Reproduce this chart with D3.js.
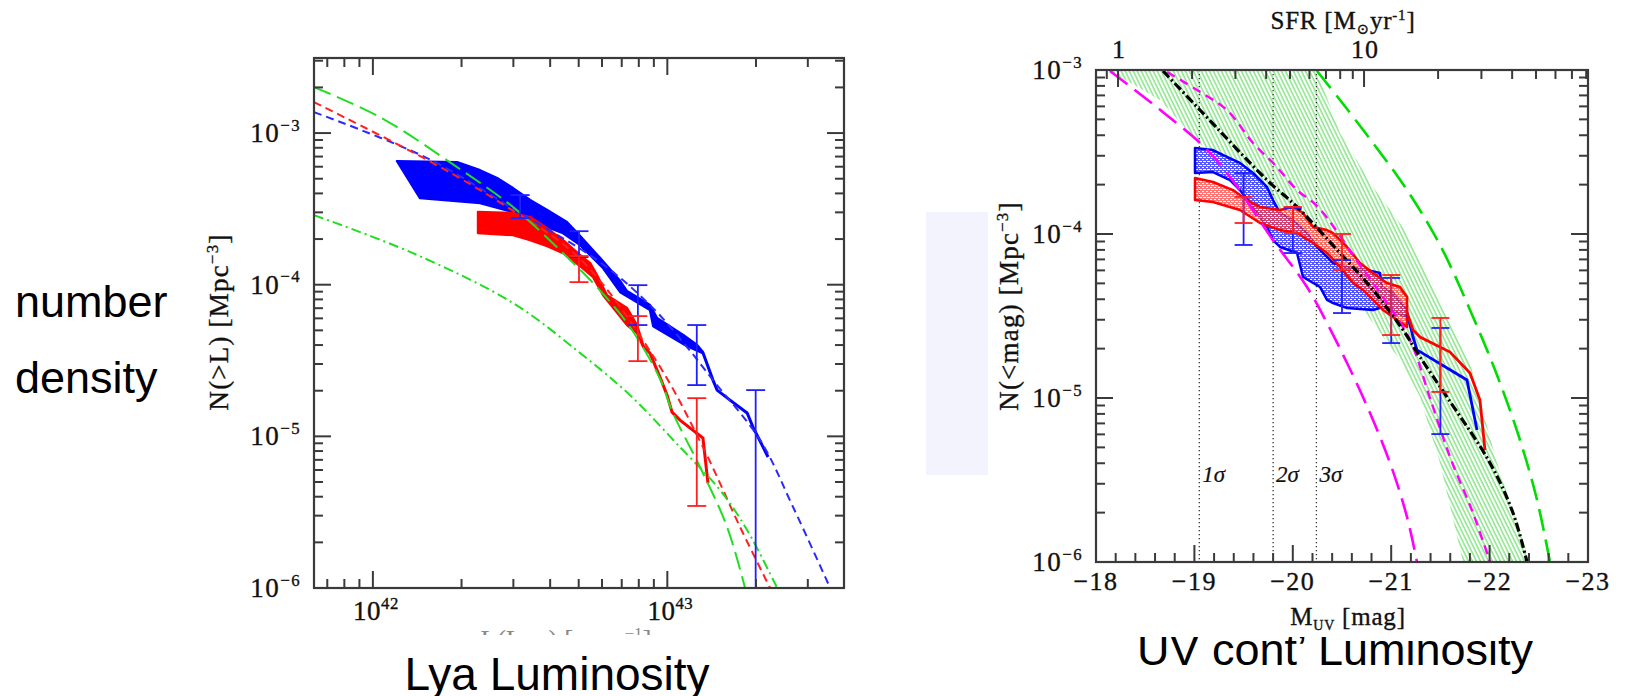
<!DOCTYPE html>
<html>
<head>
<meta charset="utf-8">
<script src="https://cdn.jsdelivr.net/npm/d3@7"></script>
<style>
  body { margin: 0; background: #fff; }
  svg { display: block; }
</style>
</head>
<body>
<div id="chart"></div>
<script>
// ---------- Left panel: cumulative Lya LF, points are [log10 L, log10 N(>L)] ----------
const lyaBlueUpper = [[42.082,-3.185],[42.286,-3.192],[42.364,-3.245],[42.422,-3.297],[42.476,-3.363],[42.534,-3.442],[42.592,-3.508],[42.659,-3.587],[42.704,-3.680],[42.772,-3.825],[42.840,-3.976],[42.863,-4.042],[42.941,-4.134],[42.965,-4.220],[43.054,-4.332],[43.101,-4.398],[43.121,-4.444]];
const lyaBlueLower = [[42.160,-3.429],[42.364,-3.462],[42.476,-3.521],[42.534,-3.574],[42.592,-3.620],[42.646,-3.660],[42.704,-3.739],[42.782,-3.891],[42.840,-4.049],[42.873,-4.088],[42.941,-4.167],[42.952,-4.273],[43.067,-4.405],[43.121,-4.451]];
const lyaBlueTail = [[43.121,-4.448],[43.155,-4.629],[43.169,-4.695],[43.213,-4.761],[43.271,-4.846],[43.291,-4.939],[43.342,-5.136]];
const lyaRedUpper = [[42.357,-3.521],[42.476,-3.528],[42.534,-3.554],[42.585,-3.620],[42.646,-3.706],[42.704,-3.805],[42.738,-3.858],[42.761,-3.937],[42.795,-4.069],[42.863,-4.154],[42.897,-4.266],[42.918,-4.398]];
const lyaRedLower = [[42.357,-3.660],[42.476,-3.673],[42.534,-3.706],[42.592,-3.746],[42.646,-3.792],[42.704,-3.877],[42.748,-3.950],[42.782,-4.069],[42.863,-4.266],[42.897,-4.319],[42.918,-4.411]];
const lyaRedTail = [[42.918,-4.405],[42.941,-4.451],[42.975,-4.609],[42.999,-4.728],[43.016,-4.840],[43.043,-4.893],[43.121,-5.011],[43.138,-5.308]];
const lyaBlueFit = [[41.8,-2.862],[42.184,-3.165],[42.5,-3.528],[42.771,-3.851],[42.941,-4.134],[43.067,-4.411],[43.155,-4.629],[43.315,-5.024],[43.427,-5.466],[43.553,-6.0]];
const lyaRedFit = [[41.8,-2.796],[42.204,-3.198],[42.456,-3.488],[42.704,-3.83],[42.965,-4.51],[43.121,-5.071],[43.247,-5.598],[43.349,-6.0]];
const lyaModelDash = [[41.8,-2.697],[42.024,-2.895],[42.286,-3.225],[42.476,-3.488],[42.646,-3.792],[42.761,-4.016],[42.873,-4.279],[42.975,-4.62],[43.019,-4.846],[43.111,-5.202],[43.203,-5.598],[43.264,-6.0]];
const lyaModelDashDot = [[41.8,-3.541],[42.136,-3.792],[42.476,-4.121],[42.704,-4.451],[42.873,-4.728],[43.043,-5.071],[43.179,-5.354],[43.271,-5.618],[43.373,-6.0]];
// error bars: log L, top and bottom of bar (log N)
const lyaBlueErrL = [42.5, 42.7, 42.9, 43.1, 43.3];
const lyaBlueErrHi = [-3.409, -3.647, -4.003, -4.266, -4.695];
const lyaBlueErrLo = [-3.561, -3.818, -4.266, -4.662, -6.5];
const lyaRedErrL = [42.7, 42.9, 43.1];
const lyaRedErrHi = [-3.811, -4.207, -4.748];
const lyaRedErrLo = [-3.983, -4.504, -5.459];

// ---------- Right panel: cumulative UV LF, points are [M_UV, log10 N(<mag)] ----------
const uvBlueUpper = [[-19.006,-3.476],[-19.189,-3.488],[-19.331,-3.530],[-19.463,-3.567],[-19.596,-3.628],[-19.738,-3.713],[-19.799,-3.793],[-19.870,-3.872],[-20.002,-3.915],[-20.144,-3.994],[-20.246,-4.079],[-20.348,-4.140],[-20.409,-4.177],[-20.551,-4.201],[-20.754,-4.220],[-20.886,-4.238],[-20.907,-4.323],[-21.018,-4.360],[-21.161,-4.463]];
const uvBlueLower = [[-19.006,-3.628],[-19.189,-3.622],[-19.362,-3.671],[-19.463,-3.732],[-19.596,-3.835],[-19.738,-3.957],[-19.799,-4.037],[-19.870,-4.079],[-20.043,-4.116],[-20.104,-4.262],[-20.276,-4.323],[-20.348,-4.402],[-20.409,-4.421],[-20.551,-4.451],[-20.815,-4.463],[-20.917,-4.445],[-21.059,-4.482],[-21.161,-4.506]];
const uvBlueTail = [[-21.161,-4.482],[-21.222,-4.628],[-21.262,-4.707],[-21.770,-4.890],[-21.872,-5.195]];
const uvRedUpper = [[-19.006,-3.659],[-19.189,-3.683],[-19.392,-3.732],[-19.535,-3.793],[-19.667,-3.835],[-19.870,-3.854],[-20.002,-3.835],[-20.104,-3.872],[-20.205,-3.957],[-20.348,-3.976],[-20.409,-3.994],[-20.551,-4.079],[-20.683,-4.177],[-20.815,-4.238],[-20.957,-4.299],[-21.089,-4.323],[-21.161,-4.384]];
const uvRedLower = [[-19.006,-3.793],[-19.189,-3.805],[-19.463,-3.854],[-19.667,-3.933],[-19.870,-3.976],[-20.043,-3.994],[-20.205,-4.055],[-20.348,-4.116],[-20.480,-4.201],[-20.612,-4.299],[-20.713,-4.341],[-20.815,-4.402],[-20.917,-4.463],[-21.018,-4.506],[-21.161,-4.567]];
const uvRedTail = [[-21.161,-4.480],[-21.222,-4.585],[-21.293,-4.628],[-21.598,-4.720],[-21.801,-4.848],[-21.902,-5.012],[-21.953,-5.317]];
const uvModelBandLeft = [[-18.142,-3.006],[-18.650,-3.183],[-19.047,-3.445],[-19.463,-3.640],[-19.870,-3.884],[-20.276,-4.171],[-20.683,-4.433],[-21.089,-4.768],[-21.293,-4.994],[-21.496,-5.396],[-21.730,-6.0]];
const uvModelBandRight = [[-20.246,-3.006],[-20.480,-3.384],[-20.815,-3.713],[-21.161,-3.994],[-21.496,-4.402],[-21.801,-4.787],[-22.075,-5.396],[-22.411,-6.0]];
const uvMagentaLong = [[-18.142,-3.006],[-19.057,-3.445],[-19.331,-3.628],[-19.799,-4.037],[-20.144,-4.323],[-20.348,-4.543],[-20.713,-4.994],[-20.988,-5.396],[-21.161,-5.726],[-21.262,-6.0]];
const uvMagentaShort = [[-18.722,-3.012],[-19.026,-3.122],[-19.331,-3.244],[-19.596,-3.445],[-19.819,-3.579],[-20.043,-3.732],[-20.256,-3.835],[-20.683,-4.189],[-20.937,-4.402],[-21.191,-4.646],[-21.394,-5.0],[-21.598,-5.360],[-21.831,-5.701],[-22.004,-6.0]];
const uvGreenLong = [[-20.246,-3.006],[-20.480,-3.183],[-20.815,-3.445],[-21.161,-3.732],[-21.496,-4.067],[-21.801,-4.463],[-22.075,-4.860],[-22.309,-5.256],[-22.482,-5.622],[-22.614,-6.0]];
const uvBlackDashDot = [[-18.681,-3.006],[-19.057,-3.244],[-19.738,-3.671],[-20.043,-3.835],[-20.480,-4.116],[-20.815,-4.341],[-21.120,-4.585],[-21.293,-4.750],[-21.567,-4.994],[-22.004,-5.396],[-22.238,-5.701],[-22.380,-6.0]];
const uvErrM = [-19.5, -20, -20.5, -21, -21.5];
const uvBlueErrHi = [-3.628, -3.841, -4.159, -4.268, -4.573];
const uvBlueErrLo = [-4.067, -4.116, -4.482, -4.665, -5.220];
const uvRedErrHi = [-3.774, -3.835, -4.0, -4.250, -4.512];
const uvRedErrLo = [-3.933, -3.994, -4.220, -4.616, -4.963];
const sigmaMags = [-19.05, -19.80, -20.24];
const sigmaLabels = ["1σ", "2σ", "3σ"];
const magTicks = [-18, -19, -20, -21, -22, -23];
const sfrZeroMag = -18.224; // M_UV where SFR = 1 Msun/yr, 2.5 mag per decade
const sfrLabels = [1, 10];

const serif = '"Liberation Serif", "DejaVu Serif", serif';
const sans = '"Liberation Sans", Arial, sans-serif';
const ink = "#111";

const svg = d3.select("#chart").append("svg")
  .attr("width", 1634).attr("height", 696);

// scales
const xL = d3.scaleLog().domain([10 ** 41.8, 10 ** 43.6]).range([314, 844]);
const yL = d3.scaleLog().domain([1e-6, 10 ** -2.505]).range([588, 58]);
const xR = d3.scaleLinear().domain([-18, -23]).range([1096, 1588]);
const yR = d3.scaleLog().domain([1e-6, 1e-3]).range([562, 70]);
const sfrAt = m => 10 ** ((sfrZeroMag - m) / 2.5);
const sR = d3.scaleLog().domain([sfrAt(-18), sfrAt(-23)]).range([1096, 1588]);

const pL = d => [xL(10 ** d[0]), yL(10 ** d[1])];
const pR = d => [xR(d[0]), yR(10 ** d[1])];

// patterns
const defs = svg.append("defs");
const hatch = defs.append("pattern").attr("id", "greenHatch")
  .attr("patternUnits", "userSpaceOnUse").attr("width", 3.6).attr("height", 10)
  .attr("patternTransform", "rotate(-26)");
hatch.append("line").attr("x1", 1).attr("y1", 0).attr("x2", 1).attr("y2", 10)
  .attr("stroke", "#5edc5e").attr("stroke-width", 1.1);

function dotPattern(id, color) {
  const p = defs.append("pattern").attr("id", id)
    .attr("patternUnits", "userSpaceOnUse").attr("width", 4).attr("height", 4);
  p.append("rect").attr("width", 4).attr("height", 4).attr("fill", color);
  p.append("rect").attr("x", 0).attr("y", 1).attr("width", 2).attr("height", 1).attr("fill", "#fff");
  p.append("rect").attr("x", 2).attr("y", 3).attr("width", 2).attr("height", 1).attr("fill", "#fff");
  p.append("rect").attr("x", 3).attr("y", 1).attr("width", 1).attr("height", 1).attr("fill", "#fff");
}
dotPattern("blueDots", "#3c3cff");
dotPattern("redDots", "#ff3c3c");

defs.append("clipPath").attr("id", "clipL").append("rect")
  .attr("x", 314).attr("y", 58).attr("width", 530).attr("height", 530);
defs.append("clipPath").attr("id", "clipR").append("rect")
  .attr("x", 1096).attr("y", 70).attr("width", 492).attr("height", 492);
defs.append("clipPath").attr("id", "clipUV").append("rect")
  .attr("x", 1100).attr("y", 637).attr("width", 534).attr("height", 60);
defs.append("clipPath").attr("id", "clipLyaX").append("rect")
  .attr("x", 400).attr("y", 628).attr("width", 400).attr("height", 7);

const lineLin = d3.line();
const lineSmooth = d3.line().curve(d3.curveCatmullRom.alpha(0.5));
const closed = d3.line().curve(d3.curveLinearClosed);

// lavender box behind the right y label
svg.append("rect").attr("x", 926).attr("y", 212).attr("width", 62).attr("height", 263)
  .attr("fill", "#f3f3fd");

// ---------------- Left panel ----------------
const gL = svg.append("g").attr("clip-path", "url(#clipL)");

gL.append("path").attr("d", closed(lyaBlueUpper.concat(lyaBlueLower.slice().reverse()).map(pL)))
  .attr("fill", "#0000ff").attr("stroke", "#0000ff").attr("stroke-width", 2.4).attr("stroke-linejoin", "round");
gL.append("path").attr("d", lineLin(lyaBlueTail.map(pL)))
  .attr("fill", "none").attr("stroke", "#0000ff").attr("stroke-width", 3);
gL.append("path").attr("d", closed(lyaRedUpper.concat(lyaRedLower.slice().reverse()).map(pL)))
  .attr("fill", "#ff0000").attr("stroke", "#ff0000").attr("stroke-width", 2.4).attr("stroke-linejoin", "round");
gL.append("path").attr("d", lineLin(lyaRedTail.map(pL)))
  .attr("fill", "none").attr("stroke", "#ff0000").attr("stroke-width", 3);

const leftCurves = [
  { data: lyaBlueFit, color: "#2a2aff", dash: "8,5", w: 2 },
  { data: lyaRedFit, color: "#ff2020", dash: "8,5", w: 2 },
  { data: lyaModelDashDot, color: "#22dd22", dash: "10,4,2,4", w: 2 },
  { data: lyaModelDash, color: "#22dd22", dash: "18,7", w: 2 }
];
leftCurves.forEach(c => {
  gL.append("path").attr("d", lineSmooth(c.data.map(pL)))
    .attr("fill", "none").attr("stroke", c.color).attr("stroke-width", c.w)
    .attr("stroke-dasharray", c.dash);
});

function errBars(g, xs, his, los, xf, yf, color, cap, w) {
  xs.forEach((v, i) => {
    const x = xf(v), y1 = yf(his[i]), y2 = yf(los[i]);
    g.append("line").attr("x1", x).attr("x2", x).attr("y1", y1).attr("y2", y2)
      .attr("stroke", color).attr("stroke-width", w);
    [y1, y2].forEach(y => g.append("line").attr("x1", x - cap / 2).attr("x2", x + cap / 2)
      .attr("y1", y).attr("y2", y).attr("stroke", color).attr("stroke-width", w));
  });
}
errBars(gL, lyaBlueErrL, lyaBlueErrHi, lyaBlueErrLo, v => xL(10 ** v), v => yL(10 ** v), "#2020ff", 19, 1.8);
errBars(gL, lyaRedErrL, lyaRedErrHi, lyaRedErrLo, v => xL(10 ** v), v => yL(10 ** v), "#ff2020", 19, 1.8);

// log ticks helper
function logTicks(lo, hi) {
  const out = [];
  for (let e = Math.floor(lo); e <= Math.ceil(hi); e++) {
    for (let m = 1; m < 10; m++) {
      const lv = Math.log10(m) + e;
      if (lv >= lo - 1e-6 && lv <= hi + 1e-6) out.push({ v: m * 10 ** e, major: m === 1, e });
    }
  }
  return out;
}
const axisColor = "#3a3a3a";
function tick(x1, y1, x2, y2) {
  svg.append("line").attr("x1", x1).attr("y1", y1).attr("x2", x2).attr("y2", y2)
    .attr("stroke", axisColor).attr("stroke-width", 2);
}
function label(x, y, size, anchor) {
  return svg.append("text").attr("x", x).attr("y", y).attr("text-anchor", anchor || "start")
    .attr("font-family", serif).attr("font-size", size).attr("fill", ink)
    .attr("stroke", ink).attr("stroke-width", 0.35);
}
function pow10(text, exp, size) {
  text.append("tspan").text("10");
  text.append("tspan").attr("dy", -size * 0.42).attr("font-size", size * 0.62)
    .text(exp < 0 ? "−" + (-exp) : String(exp));
}

// left frame + ticks
svg.append("rect").attr("x", 314).attr("y", 58).attr("width", 530).attr("height", 530)
  .attr("fill", "none").attr("stroke", axisColor).attr("stroke-width", 2.2);
logTicks(41.8, 43.6).forEach(t => {
  const x = xL(t.v), len = t.major ? 17 : 9;
  tick(x, 588, x, 588 - len);
  tick(x, 58, x, 58 + len);
  if (t.major) pow10(label(x + 3, 620, 27, "middle").attr("letter-spacing", 0.5), t.e, 27);
});
logTicks(-6, -2.505).forEach(t => {
  const y = yL(t.v), len = t.major ? 17 : 9;
  tick(314, y, 314 + len, y);
  tick(844, y, 844 - len, y);
  if (t.major) pow10(label(301, y + 9, 27, "end").attr("letter-spacing", 1.5), t.e, 27);
});
// left y label
const ylab = label(0, 0, 27, "middle").attr("transform", "translate(228,322) rotate(-90)")
  .attr("letter-spacing", 1.2);
ylab.append("tspan").text("N(>L) [Mpc");
ylab.append("tspan").attr("dy", -10).attr("font-size", 17).text("−3");
ylab.append("tspan").attr("dy", 10).text("]");
// x label of left panel: only the tops of its letters show above the caption box
const xlab = svg.append("text").attr("x", 566).attr("y", 649).attr("clip-path", "url(#clipLyaX)")
  .attr("text-anchor", "middle").attr("font-family", serif).attr("font-size", 27).attr("fill", "#888");
xlab.append("tspan").text("L(Lyα) [erg s");
xlab.append("tspan").attr("dy", -10).attr("font-size", 17).text("−1");
xlab.append("tspan").attr("dy", 10).text("]");

// ---------------- Right panel ----------------
const gR = svg.append("g").attr("clip-path", "url(#clipR)");
gR.append("path").attr("d", closed(uvModelBandLeft.concat(uvModelBandRight.slice().reverse()).map(pR)))
  .attr("fill", "url(#greenHatch)");
sigmaMags.forEach((m, i) => {
  gR.append("line").attr("x1", xR(m)).attr("x2", xR(m)).attr("y1", 70).attr("y2", 562)
    .attr("stroke", "#333").attr("stroke-width", 1.3).attr("stroke-dasharray", "1.3,2.7");
  label(xR(m) + 3, 482, 23).attr("font-style", "italic").attr("stroke-width", 0.2).text(sigmaLabels[i]);
});
gR.append("path").attr("d", closed(uvBlueUpper.concat(uvBlueLower.slice().reverse()).map(pR)))
  .attr("fill", "url(#blueDots)").attr("fill-opacity", 0.85).attr("stroke", "#0000ff").attr("stroke-width", 2.5).attr("stroke-linejoin", "round");
gR.append("path").attr("d", closed(uvRedUpper.concat(uvRedLower.slice().reverse()).map(pR)))
  .attr("fill", "url(#redDots)").attr("fill-opacity", 0.7).attr("stroke", "#ff0000").attr("stroke-width", 2.5).attr("stroke-linejoin", "round");
gR.append("path").attr("d", lineLin(uvBlueTail.map(pR)))
  .attr("fill", "none").attr("stroke", "#0000ff").attr("stroke-width", 2.8);
gR.append("path").attr("d", lineLin(uvRedTail.map(pR)))
  .attr("fill", "none").attr("stroke", "#ff0000").attr("stroke-width", 2.8);

const rightCurves = [
  { data: uvMagentaLong, color: "#ff00ff", dash: "22,9", w: 2.6 },
  { data: uvMagentaShort, color: "#ff00ff", dash: "9,6", w: 2.4 },
  { data: uvGreenLong, color: "#00dd00", dash: "22,9", w: 2.6 },
  { data: uvBlackDashDot, color: "#000", dash: "9,3,2,3", w: 3.2 }
];
rightCurves.forEach(c => {
  gR.append("path").attr("d", lineSmooth(c.data.map(pR)))
    .attr("fill", "none").attr("stroke", c.color).attr("stroke-width", c.w)
    .attr("stroke-dasharray", c.dash);
});
errBars(gR, uvErrM, uvBlueErrHi, uvBlueErrLo, xR, v => yR(10 ** v), "#2020ff", 18, 1.8);
errBars(gR, uvErrM, uvRedErrHi, uvRedErrLo, xR, v => yR(10 ** v), "#ff2020", 18, 1.8);

// right frame + ticks
svg.append("rect").attr("x", 1096).attr("y", 70).attr("width", 492).attr("height", 492)
  .attr("fill", "none").attr("stroke", axisColor).attr("stroke-width", 2.2);
d3.range(0, 26).forEach(i => {
  const m = -18 - i * 0.2, x = xR(m), major = i % 5 === 0;
  tick(x, 562, x, 562 - (major ? 17 : 9));
});
magTicks.forEach(m => {
  label(xR(m), 590, 26, "middle").attr("letter-spacing", 1.5).text("−" + (-m));
});
logTicks(Math.log10(sfrAt(-18)), Math.log10(sfrAt(-23))).forEach(t => {
  const x = sR(t.v);
  tick(x, 70, x, 70 + (t.major ? 17 : 9));
});
sfrLabels.forEach(v => {
  label(sR(v) + 1, 58, 26, "middle").attr("letter-spacing", 1).text(v);
});
logTicks(-6, -3).forEach(t => {
  const y = yR(t.v), len = t.major ? 17 : 9;
  tick(1096, y, 1096 + len, y);
  tick(1588, y, 1588 - len, y);
  if (t.major) pow10(label(1083, y + 9, 27, "end").attr("letter-spacing", 1.5), t.e, 27);
});
// SFR title
const sfrT = label(1343, 29, 25, "middle").attr("letter-spacing", 0.8);
sfrT.append("tspan").text("SFR [M");
sfrT.append("tspan").attr("dy", 5).attr("font-size", 15).text("⊙");
sfrT.append("tspan").attr("dy", -5).text("yr");
sfrT.append("tspan").attr("dy", -9).attr("font-size", 15).text("-1");
sfrT.append("tspan").attr("dy", 9).text("]");
// x label
const mlab = label(1348, 625, 25, "middle").attr("letter-spacing", 0.8);
mlab.append("tspan").text("M");
mlab.append("tspan").attr("dy", 5).attr("font-size", 14).text("UV");
mlab.append("tspan").attr("dy", -5).text(" [mag]");
// y label
const ylabR = label(0, 0, 27, "middle").attr("transform", "translate(1018,306) rotate(-90)")
  .attr("letter-spacing", 1.2);
ylabR.append("tspan").text("N(<mag) [Mpc");
ylabR.append("tspan").attr("dy", -10).attr("font-size", 17).text("−3");
ylabR.append("tspan").attr("dy", 10).text("]");

// ---------------- big slide captions ----------------
svg.append("text").attr("x", 15).attr("y", 317).attr("font-family", sans).attr("font-size", 45)
  .attr("fill", "#000").text("number");
svg.append("text").attr("x", 15).attr("y", 393).attr("font-family", sans).attr("font-size", 45)
  .attr("fill", "#000").text("density");
svg.append("text").attr("x", 557).attr("y", 690).attr("text-anchor", "middle").attr("font-family", sans)
  .attr("font-size", 46).attr("fill", "#000").text("Lya Luminosity");
svg.append("text").attr("x", 1137).attr("y", 665).attr("font-family", sans).attr("font-size", 45)
  .attr("fill", "#000").attr("clip-path", "url(#clipUV)").text("UV cont’ Luminosity");
</script>
</body>
</html>
